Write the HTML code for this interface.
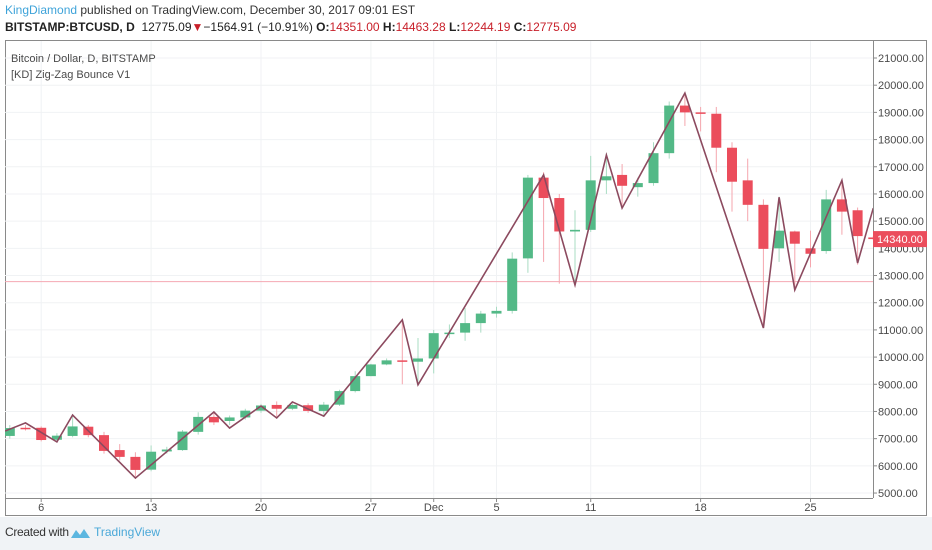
<!DOCTYPE html>
<html><head><meta charset="utf-8">
<style>
body{margin:0;width:932px;height:550px;background:#fff;font-family:"Liberation Sans",sans-serif;overflow:hidden;position:relative}
#hdr1{position:absolute;left:5px;top:3px;font-size:12px;color:#333}
#hdr2{position:absolute;left:5px;top:20px;font-size:12px;color:#222}
#footer{position:absolute;left:0;top:517px;width:932px;height:33px;background:#f0f3f6}
svg{position:absolute;left:0;top:0}
</style></head><body>
<div id="hdr1"><span style="color:#3ea3d9">KingDiamond</span> published on TradingView.com, December 30, 2017 09:01 EST</div>
<div id="hdr2"><b>BITSTAMP:BTCUSD, D</b>&nbsp; 12775.09<span style="color:#c8202a">▼</span>−1564.91 (−10.91%) <b>O:</b><span style="color:#c8202a">14351.00</span> <b>H:</b><span style="color:#c8202a">14463.28</span> <b>L:</b><span style="color:#c8202a">12244.19</span> <b>C:</b><span style="color:#c8202a">12775.09</span></div>
<div id="footer">
<span style="position:absolute;left:5px;top:8px;font-size:12px;color:#333;letter-spacing:-0.3px">Created with</span>
<svg width="22" height="14" style="position:absolute;left:70px;top:9px"><path d="M1 12 L6 4 L10 9 L14 3 L20 12 Z" fill="#5bb6e0"/></svg>
<span style="position:absolute;left:94px;top:8px;font-size:12px;color:#4aa8d8">TradingView</span>
</div>
<svg id="chart" width="932" height="550"></svg>
<script>
const opens  =[7100,7400,7400,6960,7100,7440,7130,6580,6330,5860,6530,6580,7250,7800,7650,7780,8030,8240,8100,8230,8020,8250,8750,9300,9730,9880,9830,9950,10880,10900,11250,11600,11700,13630,16600,15850,14620,14680,16500,16700,16250,16400,17500,19250,19000,18950,17700,16500,15600,14000,14620,14000,13900,15800,15400,14400];
const closes =[7390,7380,6950,7110,7450,7130,6550,6330,5850,6520,6600,7260,7800,7600,7780,8030,8220,8100,8240,8020,8250,8750,9300,9730,9880,9840,9950,10880,10900,11250,11600,11700,13620,16600,15850,14620,14680,16500,16650,16300,16400,17500,19250,19000,18950,17700,16450,15600,13980,14650,14170,13800,15800,15350,14450,14340];
const highs  =[7500,7500,7450,7200,7900,7500,7250,6800,6500,6750,6700,7320,7970,8000,7850,8100,8280,8370,8300,8300,8350,8800,9480,9750,9950,11400,10700,11000,11200,11800,11700,11850,13850,16700,16800,16000,15400,17400,17500,17100,16600,17900,19400,19700,19200,19200,17900,17300,15800,15900,14650,14650,16150,16500,15500,14460];
const lows   =[7000,7300,6900,6900,7050,7050,6450,6200,5600,5800,6450,6550,7150,7500,7500,7700,7950,7800,8050,7950,7870,8200,8700,9300,9700,9000,9000,9400,10700,10600,10900,11450,11600,13100,13500,12700,12650,14600,16000,15500,15900,16300,17300,18500,18300,16800,15350,15000,11100,13500,12500,13300,13800,14500,13400,14300];
const zzIdx  =[-0.3,1,3,4,8,13,14,16,17,18,20,25,26,34,36,38,39,43,48,49,50,53,54,55];
const zzVal  =[7280,7580,6880,7870,5550,7980,7390,8200,7760,8350,7830,11370,8980,16700,12650,17430,15480,19710,11070,15880,12470,16500,13460,15480];
const yTicks =[5000,6000,7000,8000,9000,10000,11000,12000,13000,14000,15000,16000,17000,18000,19000,20000,21000];
const xTickIdx=[2,9,16,23,27,31,37,44,51];
const xTickLbl=["6","13","20","27","Dec","5","11","18","25"];
const lastPrice=14340, refPrice=12775;

const L=5,R=873,T=41,B=498;
const X=i=>9.8+i*15.7;
const Y=p=>58+(21000-p)*0.02719;
const svg=document.getElementById('chart');
const NS='http://www.w3.org/2000/svg';
function mk(tag,attrs,parent){const e=document.createElementNS(NS,tag);for(const k in attrs)e.setAttribute(k,attrs[k]);(parent||svg).appendChild(e);return e;}

const frame=mk('rect',{x:5.5,y:40.5,width:921,height:475,fill:'#fff',stroke:'#8a8a8a'});


const clip=mk('clipPath',{id:'pc'});mk('rect',{x:L,y:T,width:R-L,height:B-T},clip);
const g=mk('g',{'clip-path':'url(#pc)'});
yTicks.forEach(v=>{const l=mk('line',{x1:L,x2:R,y1:Y(v),y2:Y(v),stroke:'#f0f2f4'},g);

});
xTickIdx.forEach(i=>{const l=mk('line',{x1:X(i),x2:X(i),y1:T,y2:B,stroke:'#f0f2f4'},g);

});
const rl=mk('line',{x1:L,x2:R,y1:Y(refPrice),y2:Y(refPrice),stroke:'#f4a8b3'},g);


opens.forEach((o,i)=>{const c=closes[i];const up=c>=o;const col=up?'#53b987':'#eb4d5c';
const cg=mk('g',{},g);


mk('line',{x1:X(i),x2:X(i),y1:Y(highs[i]),y2:Y(lows[i]),stroke:up?'#a9dcc3':'#f5a6ae','stroke-width':1},cg);
const top=Y(Math.max(o,c)),h=Math.max(1.5,Math.abs(Y(o)-Y(c)));
mk('rect',{x:X(i)-5,y:top,width:10,height:h,fill:col},cg);});
const zz=mk('polyline',{points:zzIdx.map((i,k)=>X(i)+','+Y(zzVal[k])).join(' '),fill:'none',stroke:'#8c4a5f','stroke-width':1.6,'stroke-linejoin':'miter'},g);


mk('line',{x1:R+0.5,x2:R+0.5,y1:T,y2:B,stroke:'#8a8a8a'});
mk('line',{x1:L,x2:R,y1:B+0.5,y2:B+0.5,stroke:'#8a8a8a'});
yTicks.forEach(v=>{if(v===14000)return;mk('line',{x1:R,x2:R+4,y1:Y(v),y2:Y(v),stroke:'#8a8a8a'});
const t=mk('text',{x:R+5,y:Y(v)+4,'font-size':11,fill:'#4a4a4a'});t.textContent=v.toFixed(2);

});
{const t=mk('text',{x:R+5,y:Y(14000)+4,'font-size':11,fill:'#4a4a4a'});t.textContent='14000.00';}
xTickIdx.forEach((i,k)=>{mk('line',{x1:X(i),x2:X(i),y1:B,y2:B+4,stroke:'#8a8a8a'});
const t=mk('text',{x:X(i),y:B+13,'font-size':11,fill:'#4a4a4a','text-anchor':'middle'});t.textContent=xTickLbl[k];

});
const pl=mk('g',{});


mk('rect',{x:R,y:Y(lastPrice)-8,width:54,height:16,fill:'#eb4d5c'},pl);
const pt=mk('text',{x:R+4,y:Y(lastPrice)+4,'font-size':11,fill:'#fff'},pl);pt.textContent=lastPrice.toFixed(2);
const l1=mk('text',{x:11,y:62,'font-size':11,fill:'#4a4a4a'});l1.textContent='Bitcoin / Dollar, D, BITSTAMP';


const l2=mk('text',{x:11,y:78,'font-size':11,fill:'#4a4a4a'});l2.textContent='[KD] Zig-Zag Bounce V1';


</script>
</body></html>
